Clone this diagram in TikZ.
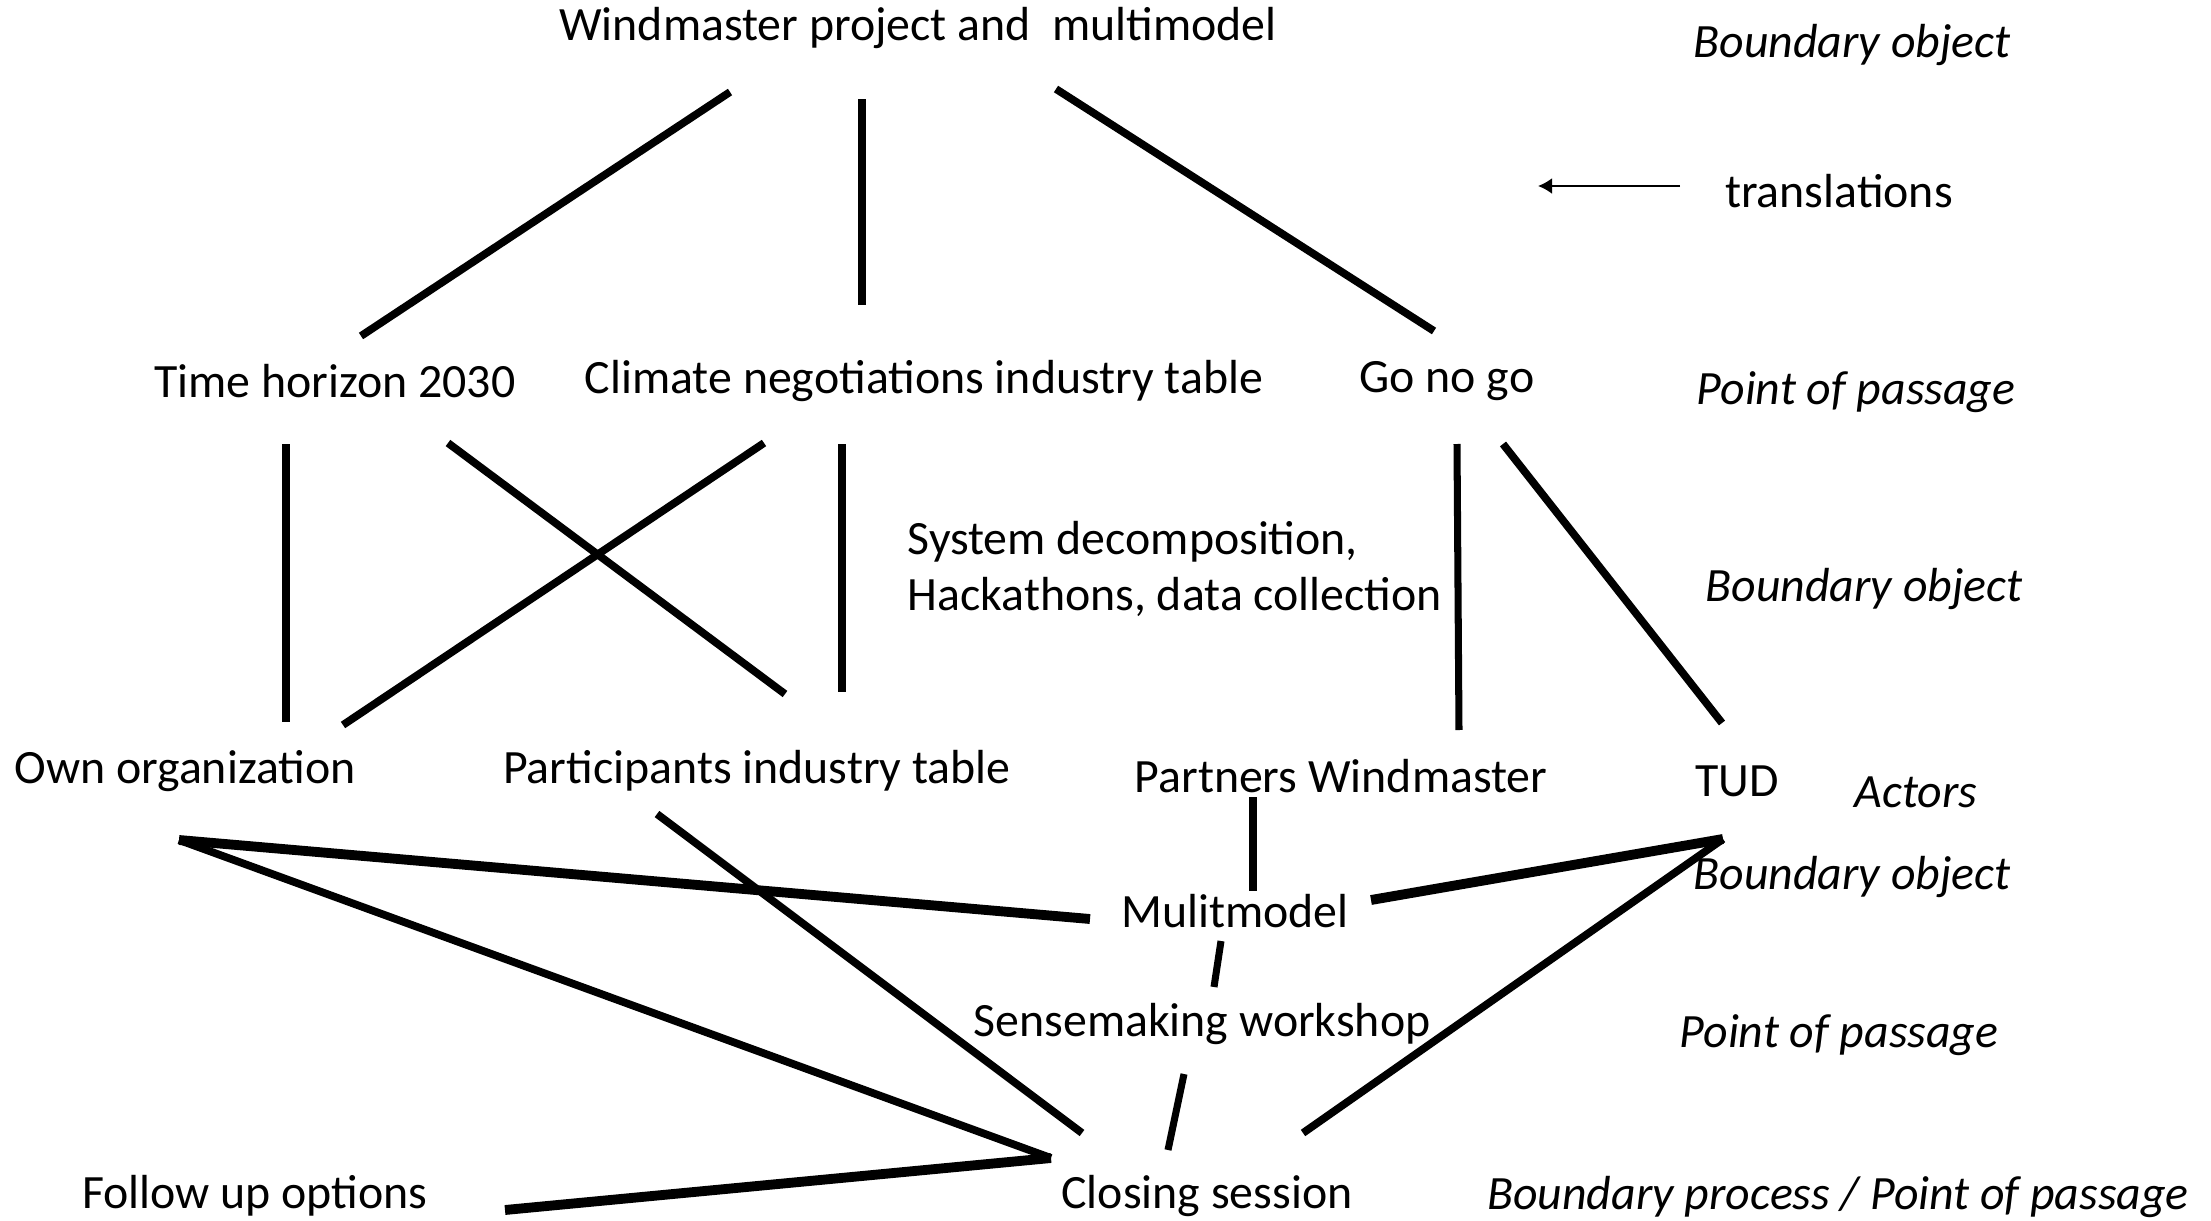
\documentclass[tikz,border=0pt]{standalone}
\usepackage{fontspec}
\setmainfont{Carlito}
\usepackage{tikz}
\usetikzlibrary{arrows.meta}

\begin{document}
\begin{tikzpicture}[x=0.01cm,y=-0.01cm,
  lbl/.style={font=\fontsize{13.6}{16}\selectfont},
  role/.style={font=\fontsize{13.6}{16}\selectfont\itshape},
  link/.style={line width=2.2pt},
  thinlink/.style={line width=2pt},
  heavylink/.style={line width=2.8pt},
  transarrow/.style={line width=0.5pt,-{Latex[length=4pt,width=4.5pt]}}]
\tikzstyle{every node}+=[inner sep=0pt]
\useasboundingbox (0,0) rectangle (2211,1221);
\node [lbl] (wind) at (918,28) {Windmaster project and\ \ multimodel};
\node [lbl] (time) at (335,381) {Time horizon 2030};
\node [lbl] (clim) at (924,381) {Climate negotiations industry table};
\node [lbl] (gonogo) at (1447,381) {Go no go};
\node [lbl,align=left,anchor=west] (sysdec) at (907,569) {System decomposition,\\Hackathons, data collection};
\node [lbl] (own) at (185,771) {Own organization};
\node [lbl] (part) at (757,771) {Participants industry table};
\node [lbl] (partners) at (1341,776) {Partners Windmaster};
\node [lbl] (tud) at (1737,781) {TUD};
\node [lbl] (multi) at (1235,911) {Mulitmodel};
\node [lbl] (sense) at (1202,1024) {Sensemaking workshop};
\node [lbl] (follow) at (255,1196) {Follow up options};
\node [lbl] (closing) at (1207,1196) {Closing session};
\node [role] (bo1) at (1852,45) {Boundary object};
\node [lbl] (trans) at (1839,191) {translations};
\node [role] (pp1) at (1856,392) {Point of passage};
\node [role] (bo2) at (1864,589) {Boundary object};
\node [role] (actors) at (1916,792) {Actors};
\node [role] (bo3) at (1852,877) {Boundary object};
\node [role] (pp2) at (1839,1035) {Point of passage};
\node [role] (bp) at (1838,1197) {Boundary process / Point of passage};
\coordinate (transtail) at (1680,186);
\coordinate (transhead) at (1538,186);
\coordinate (windL) at (730,92);
\coordinate (windM) at (862,99);
\coordinate (windR) at (1056,89);
\coordinate (timeT) at (361,336);
\coordinate (climT) at (862,305);
\coordinate (gonogoT) at (1434,331);
\coordinate (timeL) at (286,444);
\coordinate (timeR) at (448,443);
\coordinate (climL) at (764,443);
\coordinate (climR) at (842,444);
\coordinate (gonogoL) at (1457,444);
\coordinate (gonogoR) at (1503,444);
\coordinate (ownT) at (286,722);
\coordinate (ownTR) at (343,725);
\coordinate (partT) at (785,694);
\coordinate (partTR) at (842,692);
\coordinate (partnersT) at (1459,730);
\coordinate (tudT) at (1722,723);
\coordinate (ownB) at (179,840);
\coordinate (partB) at (657,814);
\coordinate (partnersB) at (1253,797);
\coordinate (tudB) at (1723,839);
\coordinate (multiT) at (1253,891);
\coordinate (multiL) at (1090,919);
\coordinate (multiR) at (1371,900);
\coordinate (multiB) at (1221,941);
\coordinate (senseT) at (1214,987);
\coordinate (senseB) at (1184,1074);
\coordinate (closingT) at (1168,1150);
\coordinate (closingL) at (1051,1158);
\coordinate (closingM) at (1082,1133);
\coordinate (closingR) at (1303,1133);
\coordinate (followR) at (505,1210);
\draw [transarrow] (transtail) -- (transhead);
\draw [link] (windL) -- (timeT);
\draw [thinlink] (windM) -- (climT);
\draw [link] (windR) -- (gonogoT);
\draw [thinlink] (timeL) -- (ownT);
\draw [link] (timeR) -- (partT);
\draw [link] (climL) -- (ownTR);
\draw [thinlink] (climR) -- (partTR);
\draw [thinlink] (gonogoL) -- (partnersT);
\draw [link] (gonogoR) -- (tudT);
\draw [thinlink] (partnersB) -- (multiT);
\draw [heavylink] (ownB) -- (multiL);
\draw [link] (ownB) -- (closingL);
\draw [link] (partB) -- (closingM);
\draw [heavylink] (multiR) -- (tudB);
\draw [link] (tudB) -- (closingR);
\draw [thinlink] (multiB) -- (senseT);
\draw [thinlink] (senseB) -- (closingT);
\draw [heavylink] (closingL) -- (followR);
\end{tikzpicture}
\end{document}
